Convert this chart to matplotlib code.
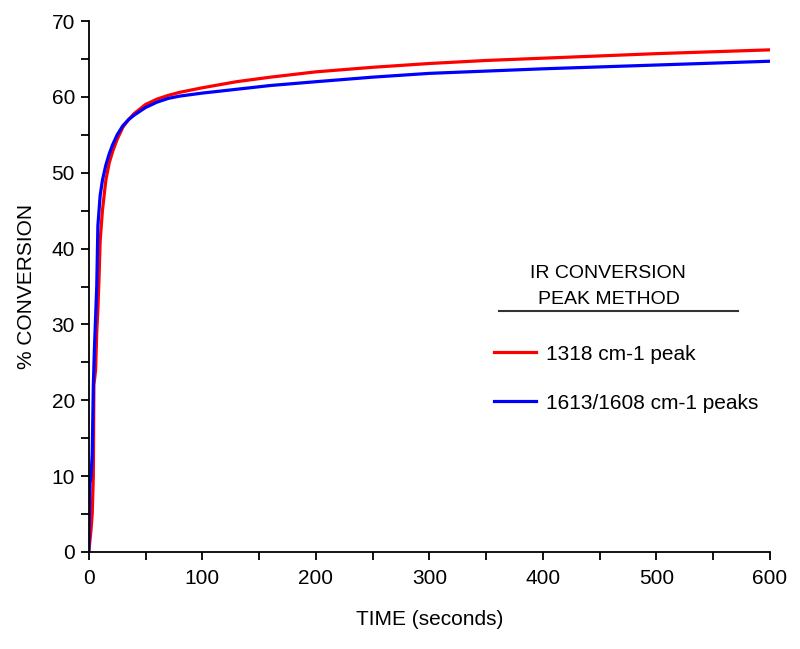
import numpy as np
import matplotlib
matplotlib.use("Agg")
import matplotlib.pyplot as plt
from matplotlib.lines import Line2D

plt.rcParams['font.family'] = ['Liberation Sans', 'DejaVu Sans']

# 1318 cm-1 peak (red)
t_red = [0, 2, 3, 4, 4.5, 6, 7, 8, 9, 10, 12, 15, 18, 21, 25, 30, 35, 40, 50, 60,
         70, 80, 100, 130, 160, 200, 250, 300, 350, 400, 450, 500, 550, 600]
conv_red = [0, 3, 5, 10, 22, 24, 29, 32, 36, 41, 45, 49, 51.3, 52.8, 54.4, 56, 57, 57.8, 59.0, 59.7,
            60.2, 60.6, 61.2, 62.0, 62.6, 63.3, 63.9, 64.4, 64.8, 65.1, 65.4, 65.7, 65.95, 66.2]

# 1613/1608 cm-1 peaks (blue)
t_blue = [0, 0.5, 1, 2, 3, 4, 5, 6, 7, 8, 10, 12, 15, 18, 21, 25, 30, 35, 40, 50, 60,
          70, 80, 100, 130, 160, 200, 250, 300, 350, 400, 450, 500, 550, 600]
conv_blue = [0, 5, 9, 10, 13, 22, 27, 31, 35, 43, 47, 49, 51, 52.5, 53.7, 55, 56.2, 57, 57.6, 58.6, 59.3,
             59.8, 60.1, 60.5, 61.0, 61.5, 62.0, 62.6, 63.1, 63.4, 63.7, 63.95, 64.2, 64.45, 64.7]

labels = ["1318 cm-1 peak", "1613/1608 cm-1 peaks"]

fig = plt.figure(figsize=(8, 6.49), dpi=100)
ax = fig.add_axes([0.111, 0.1495, 0.8515, 0.8181])

ax.plot(t_red, conv_red, color='#ff0000', lw=2.3, label=labels[0])
ax.plot(t_blue, conv_blue, color='#0000ff', lw=2.3, label=labels[1])

ax.set_xlim(0, 600)
ax.set_ylim(0, 70)
ax.set_xticks(np.arange(0, 601, 100))
ax.set_xticks(np.arange(0, 601, 50), minor=True)
ax.set_yticks(np.arange(0, 71, 10))
ax.set_yticks(np.arange(0, 71, 5), minor=True)
for s in ['top', 'right']:
    ax.spines[s].set_visible(False)
for s in ['left', 'bottom']:
    ax.spines[s].set_linewidth(1.3)
ax.tick_params(which='both', direction='out', length=6, width=1.3, labelsize=15)
ax.tick_params(axis='x', pad=6)
ax.tick_params(axis='y', pad=4)

ax.set_xlabel("TIME (seconds)", fontsize=15, labelpad=16)
ax.set_ylabel("% CONVERSION", fontsize=15, labelpad=11)

# legend block
fig.text(0.76, 0.578, "IR CONVERSION", ha='center', va='center', fontsize=14)
fig.text(0.761, 0.538, "PEAK METHOD", ha='center', va='center', fontsize=14)
fig.add_artist(Line2D([0.624, 0.923], [0.521, 0.521], color='#333333', lw=1.5))
ax.legend(loc='upper left', bbox_to_anchor=(0.607, 0.482), bbox_transform=fig.transFigure,
          frameon=False, fontsize=15, handlelength=2.0, handletextpad=0.5,
          labelspacing=1.45, borderaxespad=0)

fig.savefig("out.png", dpi=100)
